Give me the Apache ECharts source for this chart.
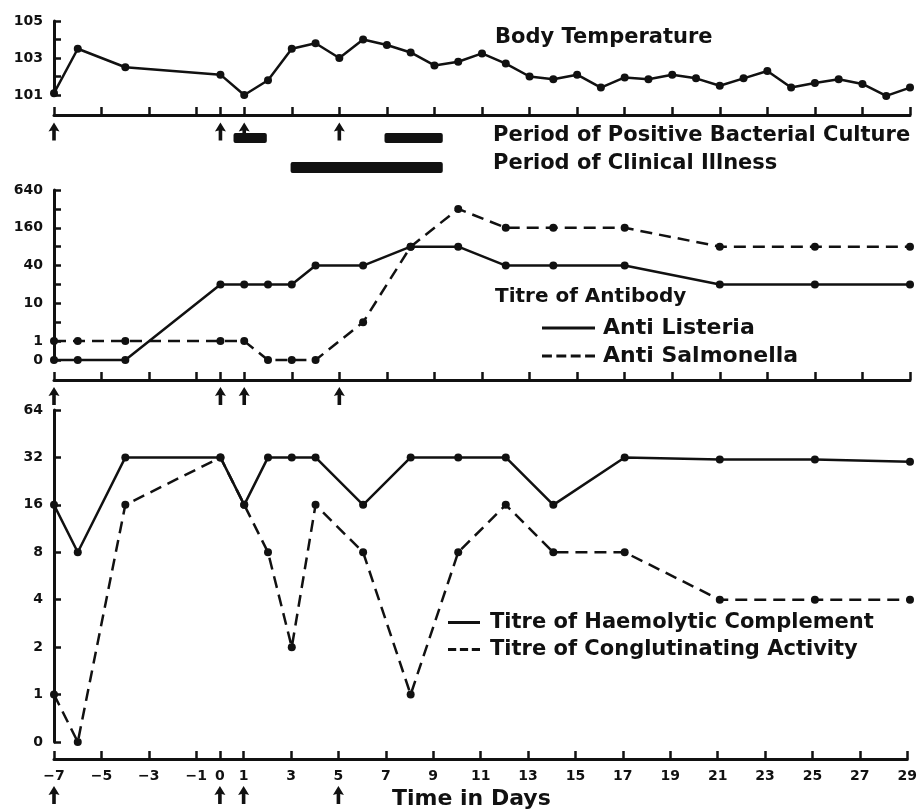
<!DOCTYPE html>
<html><head><meta charset="utf-8">
<script src="https://cdn.jsdelivr.net/npm/echarts@6/dist/echarts.min.js"></script>
<style>html,body{margin:0;padding:0;background:#fff}#c{width:920px;height:811px}</style>
</head><body><div id="c"></div>
<script>
// ---------- data ----------
const xTicks = [-7,-5,-3,-1,0,1,3,5,7,9,11,13,15,17,19,21,23,25,27,29];
const injectionDays = [-7,0,1,5];
const topArrowDays = [-7,0,1,5];

const tempDays = [-7,-6,-4,0,1,2,3,4,5,6,7,8,9,10,11,12,13,14,15,16,17,18,19,20,21,22,23,24,25,26,27,28,29];
const temperature = [101.1,103.5,102.5,102.1,101.0,101.8,103.5,103.8,103.0,104.0,103.7,103.3,102.6,102.8,103.25,102.7,102.0,101.85,102.1,101.4,101.95,101.85,102.1,101.9,101.5,101.9,102.3,101.4,101.65,101.85,101.6,100.95,101.4];
const tempTicks = [101,102,103,104,105];
const tempLabels = [101,103,105];

const cultureSpans = [[0.55,1.95],[6.9,9.35]];
const illnessSpans = [[2.95,9.35]];

const titreDays = [-7,-6,-4,0,1,2,3,4,6,8,10,12,14,17,21,25,29];
const antiListeria   = [0,0,0,20,20,20,20,40,40,80,80,40,40,40,20,20,20];
const antiSalmonella = [1,1,1,1,1,0,0,0,5,80,320,160,160,160,80,80,80];
const antibodyTicks  = [0,1,5,10,20,40,80,160,320,640];
const antibodyLabels = [0,1,10,40,160,640];

const complement     = [16,8,32,32,16,32,32,32,16,32,32,32,16,32,31,31,30];
const conglutinating = [1,0,16,32,16,8,2,16,8,1,8,16,8,8,4,4,4];
const complementTicks = [0,1,2,4,8,16,32,64];

// ---------- scale helpers (ordinal dilution steps) ----------
const abLevel = v => v === 0 ? 0 : (v === 1 ? 1 : Math.log2(v / 5) + 2);
const cLevel  = v => v === 0 ? 0 : Math.log2(v) + 1;

const FONT = 'DejaVu Sans';
const BLACK = '#111';
const LW = 2.5;
const DASH = [12, 7];
const ARROW = 'path://M5,0L10.5,8.5L6.8,7.6L6.8,17L3.2,17L3.2,7.6L-0.5,8.5Z';

const L = 54, R = 10;
const grids = [
  {left:L, right:R, top:21,  height:74},   // 0 temperature
  {left:L, right:R, top:115, height:60},   // 1 temp strip
  {left:L, right:R, top:190, height:170},  // 2 antibody
  {left:L, right:R, top:380, height:26},   // 3 antibody strip
  {left:L, right:R, top:410, height:332},  // 4 complement
  {left:L, right:R, top:759, height:52}    // 5 bottom strip
];

const fmtDay = v => v < 0 ? '\u2212' + (-v) : String(v);

function hiddenX(i){ return {type:'value', gridIndex:i, min:-7, max:29, interval:1, show:false}; }
function stripX(i, labels){
  return {
    type:'value', gridIndex:i, min:-7, max:29, interval:1, position:'top',
    axisLine:{show:true, onZero:false, lineStyle:{color:BLACK, width:3}},
    axisTick:{show:true, inside:false, length:8, lineStyle:{color:BLACK, width:2.5}, customValues:xTicks},
    axisLabel:{show:labels, inside:true, margin:10, customValues:xTicks, formatter:fmtDay,
      color:BLACK, fontFamily:FONT, fontWeight:'bold', fontSize:14},
    splitLine:{show:false}
  };
}
function stripY(i, h){ return {type:'value', gridIndex:i, min:0, max:h, inverse:true, show:false}; }
function dataY(i, min, max, ticks, labels, fmt){
  return {
    type:'value', gridIndex:i, min:min, max:max, interval:1,
    axisLine:{show:true, onZero:false, lineStyle:{color:BLACK, width:3}},
    axisTick:{show:true, inside:true, length:7, lineStyle:{color:BLACK, width:2.5}, customValues:ticks},
    axisLabel:{show:true, margin:11, customValues:labels, formatter:fmt,
      color:BLACK, fontFamily:FONT, fontWeight:'bold', fontSize:14},
    splitLine:{show:false}
  };
}

const abLabelMap = {}; antibodyLabels.forEach(v => abLabelMap[abLevel(v).toFixed(3)] = String(v));
const cLabelMap = {}; complementTicks.forEach(v => cLabelMap[cLevel(v).toFixed(3)] = String(v));

function lineSeries(name, xi, yi, days, vals, map, dashed){
  return {
    name:name, type:'line', xAxisIndex:xi, yAxisIndex:yi,
    data: days.map((d, k) => [d, map(vals[k])]),
    symbol:'circle', symbolSize:8, showSymbol:true,
    itemStyle:{color:BLACK, opacity:1},
    lineStyle:{color:BLACK, width:LW, type: dashed ? DASH : 'solid'},
    clip:false, silent:true, animation:false, z:3
  };
}
function arrows(xi, yi, offset){
  return {
    type:'scatter', xAxisIndex:xi, yAxisIndex:yi, symbol:ARROW, symbolSize:[11,18], symbolKeepAspect:false,
    itemStyle:{color:BLACK, opacity:1}, data: (xi === 1 ? topArrowDays : injectionDays).map(d => [d, offset]),
    silent:true, animation:false, clip:false, z:2
  };
}
function spans(xi, yi, spanArr, row, h){
  return {
    type:'custom', xAxisIndex:xi, yAxisIndex:yi, data: spanArr, clip:false, silent:true, animation:false, z:3,
    encode:{x:[0,1]},
    renderItem:function(params, api){
      const a = api.coord([api.value(0), row]);
      const b = api.coord([api.value(1), row]);
      return {type:'rect', shape:{x:a[0], y:a[1]-h/2, width:b[0]-a[0], height:h, r:2}, style:{fill:BLACK}};
    }
  };
}

const txt = (text, left, top, size) => ({
  text:text, left:left, top:top, padding:0,
  textStyle:{fontFamily:FONT, fontWeight:'bold', fontSize:size, color:BLACK}
});

const solidIcon = w => 'path://M0,0H' + w + 'V3H0Z';
function dashIcon(n, w){
  const seg = w / (n + (n - 1) * 0.45), gap = seg * 0.45;
  let p = '';
  for (let i = 0; i < n; i++){ const x0 = i * (seg + gap); p += 'M' + x0 + ',0H' + (x0 + seg) + 'V3H' + x0 + 'Z'; }
  return 'path://' + p;
}

const option = {
  backgroundColor:'#fff',
  animation:false,
  grid: grids,
  title:[
    txt('Body Temperature', 495, 27, 21),
    txt('Period of Positive Bacterial Culture', 493, 125, 21),
    txt('Period of Clinical Illness', 493, 153, 21),
    txt('Titre of Antibody', 495, 287, 20),
    txt('Time in Days', 392, 788, 22)
  ],
  legend:[
    {orient:'vertical', left:537, top:312, itemWidth:53, itemHeight:3, itemGap:6, selectedMode:false,
     textStyle:{fontFamily:FONT, fontWeight:'bold', fontSize:22, color:BLACK, padding:[0,0,0,3]},
     data:[{name:'Anti Listeria', icon:solidIcon(53)}, {name:'Anti Salmonella', icon:dashIcon(4,53)}]},
    {orient:'vertical', left:443, top:607, itemWidth:32, itemHeight:3, itemGap:6, selectedMode:false,
     textStyle:{fontFamily:FONT, fontWeight:'bold', fontSize:21, color:BLACK, padding:[0,0,0,5]},
     data:[{name:'Titre of Haemolytic Complement', icon:solidIcon(32)}, {name:'Titre of Conglutinating Activity', icon:dashIcon(3,32)}]}
  ],
  xAxis:[hiddenX(0), stripX(1,false), hiddenX(2), stripX(3,false), hiddenX(4), stripX(5,true)],
  yAxis:[
    dataY(0, 101, 105, tempTicks, tempLabels, v => String(v)),
    stripY(1, 60),
    dataY(2, 0, 9, antibodyTicks.map(abLevel), antibodyLabels.map(abLevel), v => abLabelMap[v.toFixed(3)] || ''),
    stripY(3, 26),
    dataY(4, 0, 7, complementTicks.map(cLevel), complementTicks.map(cLevel), v => cLabelMap[v.toFixed(3)] || ''),
    stripY(5, 52)
  ],
  series:[
    lineSeries('Body Temperature', 0, 0, tempDays, temperature, v => v, false),
    arrows(1, 1, 16.5),
    spans(1, 1, cultureSpans, 23, 10),
    spans(1, 1, illnessSpans, 52.5, 11),
    lineSeries('Anti Listeria', 2, 2, titreDays, antiListeria, abLevel, false),
    lineSeries('Anti Salmonella', 2, 2, titreDays, antiSalmonella, abLevel, true),
    arrows(3, 3, 16),
    lineSeries('Titre of Haemolytic Complement', 4, 4, titreDays, complement, cLevel, false),
    lineSeries('Titre of Conglutinating Activity', 4, 4, titreDays, conglutinating, cLevel, true),
    arrows(5, 5, 36)
  ]
};

const chart = echarts.init(document.getElementById('c'), null, {renderer:'canvas'});
chart.setOption(option);
</script>
</body></html>
